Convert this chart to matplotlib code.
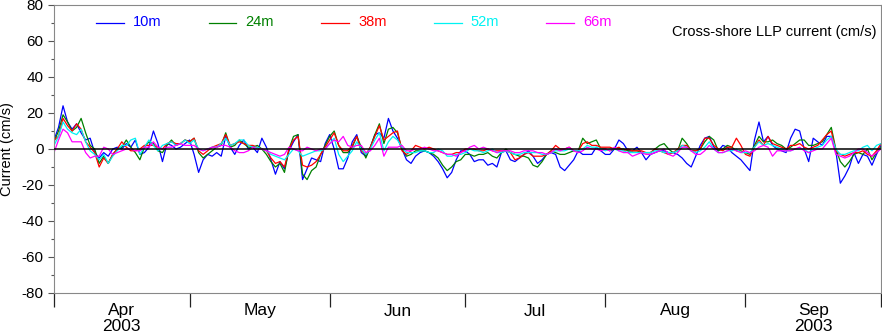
import numpy as np
import matplotlib
matplotlib.use("Agg")
import matplotlib.pyplot as plt
from matplotlib.lines import Line2D

plt.rcParams['font.family'] = ['Liberation Sans', 'DejaVu Sans']
plt.rcParams['axes.unicode_minus'] = False

# Calendar of the record (daily values starting 1 Apr 2003)
months = ["Apr", "May", "Jun", "Jul", "Aug", "Sep"]
month_days = [30, 31, 30, 31, 31, 30]
year_label = "2003"

depths = ["10m", "24m", "38m", "52m", "66m"]
colors = ["#0000FF", "#008000", "#FF0000", "#00F2F2", "#FF00FF"]

# Cross-shore low-pass current (cm/s), one value per day
u10 = ([5, 12, 24, 15, 11, 14, 9, 5, 6, -2, -5, -2, -4, 0, 1, 0, 3, 1, 5, -3, -2, 1, 10, 3, -7, 3, 2, 0, 1, 3]
       + [5, -3, -13, -6, -3, -4, -2, -4, 7, 1, -3, 2, 5, 0, 1, -2, 6, 1, -6, -14, -7, -11, -1, 4, 8, -17, -11, -5, -6, -7, 3]
       + [8, 0, -11, -11, -5, 4, 8, -2, -4, 1, 8, 9, 6, 17, 10, 6, 0, -6, -8, -4, -2, -1, -2, -4, -7, -11, -16, -13, -6, -1]
       + [-1, -3, -7, -6, -6, -9, -8, -10, -2, -1, -6, -7, -5, -3, -1, -4, -8, -6, -3, -2, -3, -10, -12, -9, -6, -1, -3, -3, -3, 1, -1]
       + [-3, -3, 0, 5, 3, -1, -1, 1, -2, -6, -3, -2, -1, -1, -2, -2, -3, -5, -8, -10, -4, 2, 6, 7, 1, -1, 2, 1, -2, -4, -6]
       + [-9, -12, 5, 15, 4, 7, 2, 0, -1, -2, 6, 11, 10, 0, -7, 6, 4, 2, 7, 7, -1, -19, -15, -10, -2, -8, -3, -4, -9, -3, 2])

u24 = ([4, 10, 19, 15, 10, 12, 17, 9, 2, 0, -8, -4, -8, -3, 0, 1, 5, 1, -2, -6, 1, 4, 3, -1, -2, 2, 5, 2, 3, 5]
       + [4, 6, -2, -5, -3, -1, 1, 2, 9, 1, 2, 5, 3, 1, 1, 2, 0, -3, -7, -10, -8, -13, 0, 7, 8, -14, -17, -12, -10, -3, 2]
       + [7, 10, 2, -2, -2, 1, 7, 1, -5, 1, 8, 14, 3, 11, 12, 9, 0, -4, -3, -1, -1, -1, -2, -3, -5, -9, -12, -10, -7, -6]
       + [-3, -3, -4, -3, -3, -2, -4, -5, -2, 0, -2, -3, -4, -4, -5, -9, -10, -7, -3, -1, -2, -3, -3, -2, -1, -1, 6, 3, 4, 5, 0]
       + [0, -1, 0, 0, 0, -1, -1, -1, -2, -2, -2, 0, 2, 3, 0, -2, -1, 6, 3, -1, -1, 0, 4, 7, 5, -1, 0, 2, 1, -1, -1]
       + [-2, -3, 2, 7, 4, 4, 5, 3, 2, 0, 1, 3, 5, 5, 2, 2, 3, 4, 8, 12, 0, -7, -10, -7, -3, -2, -3, 0, -6, -2, 1])

u38 = ([5, 7, 17, 13, 10, 14, 11, 4, 1, -2, -10, -5, -8, -3, 0, 4, 1, -1, -1, 0, 2, 2, 2, 1, 0, 3, 4, 3, 3, 5]
       + [4, 6, -1, -3, -1, 1, 2, 3, 8, 2, 3, 4, 3, 2, 2, 1, 0, -1, -5, -8, -7, -10, 0, 5, 7, -9, -10, -9, -7, -3, 1]
       + [5, 9, 2, -1, -1, 2, 7, -1, -3, 1, 7, 13, 5, 7, 9, 10, -1, -3, -1, 2, 1, 0, 1, 0, -1, -2, -3, -3, -2, -2]
       + [0, 0, 0, -1, -1, 0, -1, -1, -1, -1, -2, -6, -5, -3, -2, -4, -4, -4, -3, -1, 2, 0, 0, 1, -1, -1, 3, 4, 2, 2, 1]
       + [1, 1, 0, 1, -1, 0, -1, -1, -1, -2, -2, 0, -1, -2, -3, -2, 0, 2, 2, -1, -1, 0, 6, 6, 2, 0, -1, 1, 1, 6, 2]
       + [-3, -4, 1, 5, 2, 7, 3, 2, 1, 0, 2, 2, 3, 1, 0, 1, 2, 5, 8, 10, -1, -3, -4, -3, -2, -2, -1, -3, -4, -1, 3])

u52 = ([2, 7, 15, 11, 9, 8, 11, 4, -1, -3, -6, -3, -8, -4, -1, 2, 2, 5, 6, -3, 1, 5, 2, -1, 2, 3, 4, 2, 3, 5]
       + [3, 5, 0, -1, 0, 1, 1, 3, 6, 2, 3, 5, 5, 2, 1, 1, 0, -1, -3, -4, -5, -6, -3, 0, -1, -4, -3, -2, -1, -1, 0]
       + [3, 6, -3, -7, -4, -1, 4, 0, -3, 0, 5, 9, -1, 4, 7, 5, 1, -2, -2, -2, -1, -1, -2, -2, 0, -1, -4, -4, -3, -3]
       + [-2, 0, -1, -1, -2, -1, 0, -2, -2, -1, -2, -3, -3, -2, -2, -2, -2, -3, -3, -2, -1, -1, -1, 0, -1, -1, 0, 2, 1, 1, 0]
       + [-1, 0, 0, -1, -1, -2, -2, -2, -2, -2, -2, -1, -1, -2, -2, -2, -1, 2, 1, -1, -2, -1, 1, 4, 0, -2, -2, -1, -1, 0, -2]
       + [-2, -2, 1, 4, 2, 3, 2, 1, 0, -1, -1, 0, 0, 0, -2, 0, 1, 2, 5, 7, 0, -3, -3, -2, -1, -1, 1, 2, -1, 2, 3])

u66 = ([-2, 5, 11, 9, 4, 4, 4, -2, -5, -4, -4, 1, 0, -3, -2, -1, 0, 0, -1, -1, 1, 1, 4, 1, 0, 1, 1, 2, 3, 2]
       + [2, 2, 0, -1, 0, 1, 1, 2, 2, 1, -1, -2, -2, -1, 1, 0, 0, -1, -2, -3, -4, -3, 1, 0, -1, -1, 1, 0, -1, 0, 0]
       + [3, 5, 4, 7, 2, 1, 2, 2, -2, -1, 2, 6, -4, 1, 1, 1, 2, -1, -1, 0, 0, 1, 0, -1, -1, -2, -3, -3, -4, -2]
       + [-1, 1, 2, 0, 1, 0, -1, -2, -1, -1, -1, -2, -2, -1, -1, -1, -2, -2, -3, -2, 0, -1, 0, 1, -1, -2, -1, 1, 0, 0, -1]
       + [0, -1, 1, -1, -2, -2, -4, -3, -2, -3, -3, -2, -1, 0, -3, -4, -2, 1, 1, -1, -3, -3, -1, 2, 0, -2, -2, -1, 0, -1, -2]
       + [-1, -2, -1, 1, 2, 1, -4, -1, -1, -1, -1, 0, 1, -1, -2, -1, 0, 0, 3, 6, -3, -4, -5, -4, -2, 0, 0, -2, -4, -2, 0])

series = [u10, u24, u38, u52, u66]

W, H = 882, 336
fig = plt.figure(figsize=(W / 100, H / 100), dpi=100)
ax = fig.add_axes([54 / W, (H - 293) / H, 827 / W, 288 / H])

for vals, col in zip(series, colors):
    ax.plot(np.arange(len(vals)), vals, color=col, lw=0.9,
            solid_joinstyle='round', solid_capstyle='round')

ax.axhline(0, color='black', lw=1.1, zorder=5)

bounds = np.concatenate([[0], np.cumsum(month_days)])
ax.set_xlim(bounds[0], bounds[-1])
ax.set_ylim(-80, 80)

# y axis
ax.set_yticks(np.arange(-80, 81, 20))
ax.set_yticks(np.arange(-70, 80, 20), minor=True)
ax.tick_params(axis='y', which='major', direction='out', length=4.5, width=0.8,
               color='#555555', labelsize=11, pad=3)
ax.tick_params(axis='y', which='minor', direction='out', length=2.5, width=0.8,
               color='#555555')

# x axis: month boundaries as ticks, names centred in each month
ax.set_xticks(bounds)
ax.set_xticklabels([])
ax.tick_params(axis='x', which='major', direction='out', length=10, width=0.9,
               color='#222222')
ax.tick_params(axis='x', which='minor', bottom=False)

trans = ax.get_xaxis_transform()
mids = (bounds[:-1] + bounds[1:]) / 2
for i, (m, x) in enumerate(zip(months, mids)):
    ax.text(x, -0.0625, m, transform=trans, ha='center', va='center', fontsize=12.5)
    if i == 0 or i == len(months) - 1:
        ax.text(x, -0.118, year_label, transform=trans, ha='center', va='center', fontsize=12.5)

for sp in ax.spines.values():
    sp.set_color('#888888')
    sp.set_linewidth(0.8)

fig.text(7 / W, 1 - 149 / H, "Current (cm/s)", rotation=90, ha='center', va='center',
         fontsize=10.5)

# legend row
y_leg = 1 - 22.5 / H
for i, (lab, col) in enumerate(zip(depths, colors)):
    x0 = 96 + 112.5 * i
    fig.add_artist(Line2D([x0 / W, (x0 + 28) / W], [y_leg, y_leg], color=col, lw=0.9))
    fig.text((x0 + 37) / W, y_leg, lab, color=col, ha='left', va='center', fontsize=10.5)

fig.text(876 / W, 1 - 32 / H, "Cross-shore LLP current (cm/s)", ha='right', va='center',
         fontsize=10.5)

fig.savefig("out.png", dpi=100)
